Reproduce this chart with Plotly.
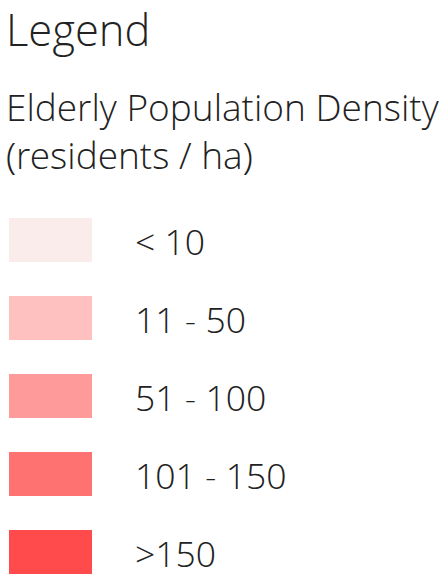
import plotly.graph_objects as go

categories = ["< 10", "11 - 50", "51 - 100", "101 - 150", ">150"]
colors = ["#FBECEC", "#FFC0C0", "#FF9A9A", "#FF7272", "#FF4B4B"]
title = "Legend"
subtitle = "Elderly Population Density<br>(residents / ha)"

FONT = "Open Sans Light, Open Sans"
TXT = "#222222"
W, H = 440, 578
px_per_row = 78.0
first_center = 240.0
sw_left, sw_right = 9.0, 92.0
label_x = 133.0

idx = list(range(len(categories)))
y_top = -first_center / px_per_row
y_bot = (H - first_center) / px_per_row

fig = go.Figure()
fig.add_trace(go.Bar(
    y=idx, x=[sw_right - sw_left] * len(idx), base=[sw_left] * len(idx),
    orientation="h", width=44 / px_per_row,
    marker=dict(color=colors, line=dict(width=0)),
    hoverinfo="skip", showlegend=False,
))
for i, lab in zip(idx, categories):
    fig.add_annotation(text=lab, x=label_x, y=i, xref="x", yref="y",
                       xanchor="left", yanchor="middle", showarrow=False, yshift=-1,
                       font=dict(family=FONT, size=35.5, color=TXT, weight=300))
fig.add_annotation(text=title, xref="paper", yref="paper", x=0.0, y=1.0,
                   xanchor="left", yanchor="top", showarrow=False, xshift=4, yshift=2,
                   font=dict(family=FONT, size=43.5, color=TXT, weight=300), align="left")
fig.add_annotation(text=subtitle, xref="paper", yref="paper", x=0.0, y=1.0,
                   xanchor="left", yanchor="top", showarrow=False, xshift=4, yshift=-79,
                   font=dict(family=FONT, size=37, color=TXT, weight=300), align="left")

fig.update_layout(
    width=W, height=H, margin=dict(l=0, r=0, t=0, b=0),
    paper_bgcolor="white", plot_bgcolor="white",
    xaxis=dict(range=[0, W], visible=False, fixedrange=True),
    yaxis=dict(range=[y_bot, y_top], visible=False, fixedrange=True),
    bargap=0,
)
fig.write_html("out.html", config={"displayModeBar": False},
               post_script="document.body.style.margin='0';")
